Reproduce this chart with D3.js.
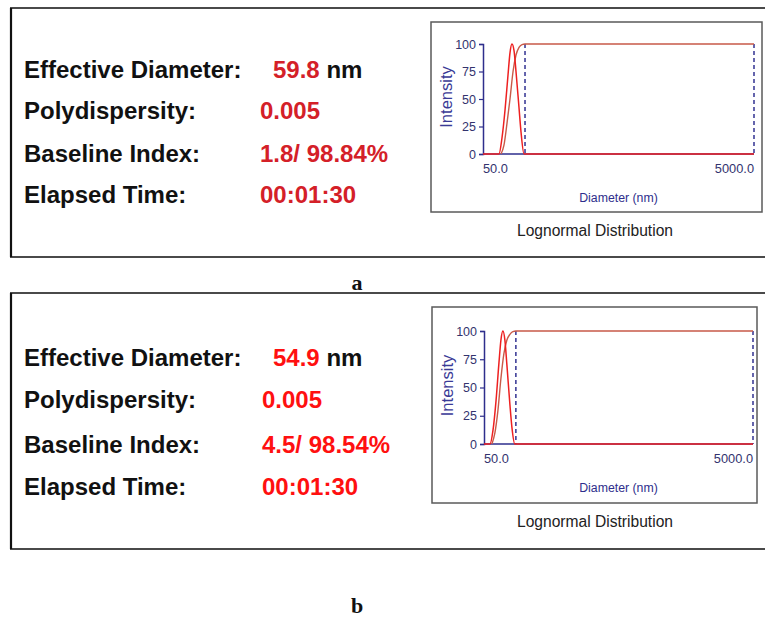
<!DOCTYPE html>
<html><head><meta charset="utf-8">
<script src="https://cdn.jsdelivr.net/npm/d3@7"></script>
<style>body{margin:0;background:#fff;} svg{display:block}</style>
</head><body>
<svg id="c" width="765" height="617"></svg>
<script>
// ---------- data ----------
const panelLabels = ["a", "b"];
const fieldNames = ["Effective Diameter:", "Polydispersity:", "Baseline Index:", "Elapsed Time:"];
const valuesA = ["59.8", "0.005", "1.8/ 98.84%", "00:01:30"];
const valuesB = ["54.9", "0.005", "4.5/ 98.54%", "00:01:30"];
const diameterUnit = "nm";
const chartTitle = "Lognormal Distribution";
const xAxisTitle = "Diameter (nm)";
const yAxisTitle = "Intensity";
const yTicks = [0, 25, 50, 75, 100];
const xDomain = [50, 5000];
const xTickLabels = ["50.0", "5000.0"];

// distribution (bell) curves: diameter (nm) / intensity
const bellDiamA = [50, 65.6, 69.1, 72.7, 76.5, 79.1, 81.8, 84.7, 87.6, 92.2, 95.4, 100.4, 5000];
const bellIntA  = [0, 0, 15, 40, 72, 92, 100, 94, 75, 42, 20, 0, 0];
const bellDiamB = [50, 55.4, 58.3, 61.4, 64.6, 66.8, 69.1, 71.5, 74.0, 77.9, 80.6, 84.8, 5000];
const bellIntB  = [0, 0, 12, 38, 72, 92, 100, 92, 70, 35, 15, 0, 0];

// cumulative curves
const cumDiamA = [67.9, 71.4, 75.2, 79.1, 83.3, 87.6, 92.2, 97.0, 102.1, 5000];
const cumIntA  = [0, 8, 28, 50, 75, 90, 97, 99.5, 100, 100];
const cumDiamB = [57.3, 60.3, 63.5, 66.8, 70.3, 74.0, 77.9, 82.0, 86.3, 5000];
const cumIntB  = [0, 10, 30, 58, 80, 92, 97, 99.5, 100, 100];

const cutoffA = 102.1;
const cutoffB = 86.3;

// ---------- layout ----------
const panels = [
  { tag: panelLabels[0], values: valuesA, bellD: bellDiamA, bellI: bellIntA, cumD: cumDiamA, cumI: cumIntA, cut: cutoffA,
    outer: [11, 8, 780, 249], inner: [431, 22, 762, 212], plot: [483, 754, 154, 44],
    rows: [78, 119, 162, 203], effX: 273, valX: 260, tagY: 290,
    redColor: "#d42028" },
  { tag: panelLabels[1], values: valuesB, bellD: bellDiamB, bellI: bellIntB, cumD: cumDiamB, cumI: cumIntB, cut: cutoffB,
    outer: [11, 293, 780, 256], inner: [432, 307, 757, 503], plot: [484, 753, 444, 331],
    rows: [366, 408, 453, 495], effX: 273, valX: 262, tagY: 613,
    redColor: "#ff1010" }
];

const svg = d3.select("#c");
const navy = "#2e2e8c";
const tickCol = "#33336e";

panels.forEach(p => {
  const g = svg.append("g");
  // outer frame
  g.append("rect").attr("x", p.outer[0]).attr("y", p.outer[1]).attr("width", p.outer[2]).attr("height", p.outer[3])
    .attr("fill", "none").attr("stroke", "#4a4a4a").attr("stroke-width", 2);
  g.append("line").attr("x1", p.outer[0]).attr("x2", p.outer[0]).attr("y1", p.outer[1]).attr("y2", p.outer[1] + p.outer[3])
    .attr("stroke", "#111").attr("stroke-width", 2.2);

  // text block
  fieldNames.forEach((f, i) => {
    g.append("text").attr("x", 24).attr("y", p.rows[i]).text(f)
      .attr("font-family", "Liberation Sans, Arial, sans-serif").attr("font-weight", "bold")
      .attr("font-size", 24).attr("fill", "#111");
    const t = g.append("text").attr("x", i === 0 ? p.effX : p.valX).attr("y", p.rows[i])
      .attr("font-family", "Liberation Sans, Arial, sans-serif").attr("font-weight", "bold").attr("font-size", 24);
    t.append("tspan").attr("fill", p.redColor).text(p.values[i]);
    if (i === 0) t.append("tspan").attr("fill", "#111").text(" " + diameterUnit);
  });

  // panel tag
  svg.append("text").attr("x", 357).attr("y", p.tagY).attr("text-anchor", "middle")
    .attr("font-family", "Liberation Serif, Times New Roman, serif").attr("font-weight", "bold")
    .attr("font-size", 22).attr("fill", "#111").text(p.tag);

  // inner chart box
  const [bx0, by0, bx1, by1] = p.inner;
  g.append("rect").attr("x", bx0).attr("y", by0).attr("width", bx1 - bx0).attr("height", by1 - by0)
    .attr("fill", "#fff").attr("stroke", "#5a5a5a").attr("stroke-width", 1.5);

  const [px0, px1, py0, py1] = p.plot;
  const x = d3.scaleLog().domain(xDomain).range([px0, px1]);
  const y = d3.scaleLinear().domain([0, 100]).range([py0, py1]);

  // y axis
  const yAx = d3.axisLeft(y).tickValues(yTicks).tickSize(4).tickPadding(3);
  const ya = g.append("g").attr("transform", `translate(${px0},0)`).call(yAx);
  ya.select(".domain").attr("stroke", navy).attr("stroke-width", 1.5);
  ya.selectAll(".tick line").attr("stroke", navy).attr("stroke-width", 1.2);
  ya.selectAll(".tick text").attr("fill", tickCol).attr("font-size", 12.5)
    .attr("font-family", "Liberation Sans, Arial, sans-serif");

  // x axis line
  g.append("line").attr("x1", px0).attr("x2", px1).attr("y1", py0).attr("y2", py0)
    .attr("stroke", navy).attr("stroke-width", 1.5);
  // x tick labels at domain ends
  xTickLabels.forEach((lab, i) => {
    g.append("text").attr("x", x(xDomain[i])).attr("y", py0 + 19)
      .attr("text-anchor", i === 0 ? "start" : "end")
      .attr("font-family", "Liberation Sans, Arial, sans-serif").attr("font-size", 12.8)
      .attr("fill", tickCol).text(lab);
  });

  // titles
  g.append("text").attr("x", (px0 + px1) / 2 + 0).attr("y", py0 + 48).attr("text-anchor", "middle")
    .attr("font-family", "Liberation Sans, Arial, sans-serif").attr("font-size", 12.3)
    .attr("fill", navy).text(xAxisTitle);
  g.append("text").attr("transform", `translate(${bx0 + 21},${(py0 + py1) / 2 - 2}) rotate(-90)`)
    .attr("text-anchor", "middle").attr("font-family", "Liberation Sans, Arial, sans-serif")
    .attr("font-size", 16.5).attr("fill", "#3a3a96").text(yAxisTitle);
  g.append("text").attr("x", 595).attr("y", by1 + 24).attr("text-anchor", "middle")
    .attr("font-family", "Liberation Sans, Arial, sans-serif").attr("font-size", 15.6)
    .attr("fill", "#222").text(chartTitle);

  // dashed cutoff lines
  [p.cut, xDomain[1]].forEach(v => {
    g.append("line").attr("x1", x(v)).attr("x2", x(v)).attr("y1", y(100)).attr("y2", y(0))
      .attr("stroke", "#24248a").attr("stroke-width", 1.4).attr("stroke-dasharray", "4,3");
  });

  const line = d3.line().x(d => x(d[0])).y(d => y(d[1])).curve(d3.curveMonotoneX);
  // cumulative
  g.append("path").datum(p.cumD.map((d, i) => [d, p.cumI[i]]))
    .attr("d", line).attr("fill", "none").attr("stroke", "#c85a48").attr("stroke-width", 1.4);
  // bell
  g.append("path").datum(p.bellD.map((d, i) => [d, p.bellI[i]]))
    .attr("d", line).attr("fill", "none").attr("stroke", "#ee2020").attr("stroke-width", 1.5);
});
</script>
</body></html>
